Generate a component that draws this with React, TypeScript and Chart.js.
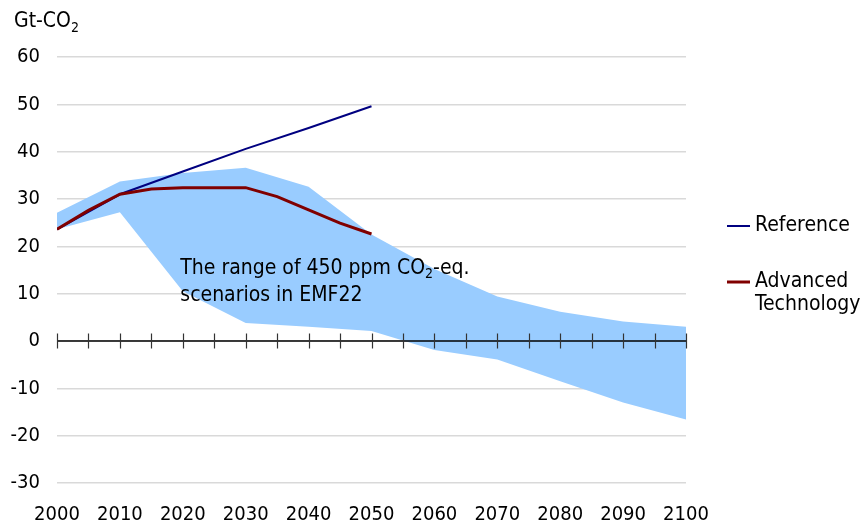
import { useEffect, useRef } from "react";
import { Chart, registerables } from "chart.js";

Chart.register(...registerables);

// ---- data ----
const bandYears = [2000, 2010, 2020, 2030, 2040, 2050, 2060, 2070, 2080, 2090, 2100];
const bandUpper = [27.1, 33.7, 35.5, 36.6, 32.6, 22.5, 15.2, 9.4, 6.2, 4.1, 3.0];
const bandLower = [23.6, 27.2, 10.5, 3.8, 3.0, 2.1, -1.9, -3.9, -8.5, -13.0, -16.6];

const referenceYears = [2000, 2010, 2020, 2030, 2040, 2050];
const referenceValues = [23.6, 31.0, 35.8, 40.6, 45.0, 49.6];

const advancedYears = [2000, 2005, 2010, 2015, 2020, 2025, 2030, 2035, 2040, 2045, 2050];
const advancedValues = [23.6, 27.6, 31.0, 32.1, 32.4, 32.4, 32.4, 30.5, 27.7, 24.9, 22.6];

const xMin = 2000;
const xMax = 2100;
const xStep = 10;
const minorStep = 5;
const yMin = -30;
const yMax = 60;
const yStep = 10;

const axisTitleText = ["Gt-CO", "2"];
const rangeLine1 = ["The range of 450 ppm CO", "2", "-eq."];
const rangeLine2 = "scenarios in EMF22";
const legendItems = [
  { lines: ["Reference"], color: "#000080" },
  { lines: ["Advanced", "Technology"], color: "#800000" },
];

const FONT = "'DejaVu Sans Condensed', 'DejaVu Sans', sans-serif";
const TEXT_SIZE = 21;
const TICK_SIZE = 20;

const zip = (xs: number[], ys: number[]) => xs.map((x, i) => ({ x, y: ys[i] }));

function drawSubText(ctx: CanvasRenderingContext2D, parts: string[], x: number, y: number, size: number) {
  // parts alternate: normal, subscript, normal...
  let cx = x;
  parts.forEach((p, i) => {
    const sub = i % 2 === 1;
    ctx.font = `${sub ? Math.round(size * 0.68) : size}px ${FONT}`;
    ctx.fillText(p, cx, sub ? y + size * 0.28 : y);
    cx += ctx.measureText(p).width;
  });
}

export default function App() {
  const ref = useRef<HTMLCanvasElement>(null);

  useEffect(() => {
    document.body.style.margin = "0";
    const canvas = ref.current;
    if (!canvas) return;

    const overlay = {
      id: "overlay",
      afterDatasetsDraw(chart: any) {
        const ctx = chart.ctx as CanvasRenderingContext2D;
        const xs = chart.scales.x;
        const ys = chart.scales.y;
        const area = chart.chartArea;
        ctx.save();

        // zero axis line with minor ticks
        const y0 = ys.getPixelForValue(0);
        ctx.strokeStyle = "#000";
        ctx.lineWidth = 1.5;
        ctx.beginPath();
        ctx.moveTo(xs.getPixelForValue(xMin), y0);
        ctx.lineTo(xs.getPixelForValue(xMax), y0);
        ctx.stroke();
        ctx.lineWidth = 1.2;
        ctx.strokeStyle = "#333";
        for (let v = xMin; v <= xMax; v += minorStep) {
          const px = Math.round(xs.getPixelForValue(v)) + 0.5;
          ctx.beginPath();
          ctx.moveTo(px, y0 - 7.5);
          ctx.lineTo(px, y0 + 7.5);
          ctx.stroke();
        }

        ctx.fillStyle = "#000";
        ctx.textBaseline = "middle";
        ctx.textAlign = "left";

        // axis title
        drawSubText(ctx, axisTitleText, 14, 22, TEXT_SIZE);

        // annotation
        const ax = xs.getPixelForValue(2019.6);
        drawSubText(ctx, rangeLine1, ax, ys.getPixelForValue(15.4), TEXT_SIZE);
        ctx.font = `${TEXT_SIZE}px ${FONT}`;
        ctx.fillText(rangeLine2, ax, ys.getPixelForValue(9.5));

        // legend
        const lx = area.right + 41;
        const legendY = [226, 282];
        legendItems.forEach((item, i) => {
          const ly = legendY[i];
          ctx.strokeStyle = item.color;
          ctx.lineWidth = i === 0 ? 2 : 3;
          ctx.beginPath();
          ctx.moveTo(lx, ly);
          ctx.lineTo(lx + 23, ly);
          ctx.stroke();
          ctx.font = `${TEXT_SIZE}px ${FONT}`;
          item.lines.forEach((t, j) => ctx.fillText(t, lx + 28, ly + j * 23));
        });

        ctx.restore();
      },
    };

    const chart = new Chart(canvas, {
      type: "line",
      data: {
        datasets: [
          {
            label: "upper",
            data: zip(bandYears, bandUpper),
            borderWidth: 0,
            pointRadius: 0,
            backgroundColor: "#99CCFF",
            fill: "+1",
            order: 3,
          },
          {
            label: "lower",
            data: zip(bandYears, bandLower),
            borderWidth: 0,
            pointRadius: 0,
            fill: false,
            order: 3,
          },
          {
            label: "Reference",
            data: zip(referenceYears, referenceValues),
            borderColor: "#000080",
            borderWidth: 2,
            pointRadius: 0,
            fill: false,
            order: 2,
          },
          {
            label: "Advanced Technology",
            data: zip(advancedYears, advancedValues),
            borderColor: "#800000",
            borderWidth: 3,
            pointRadius: 0,
            fill: false,
            order: 1,
          },
        ],
      },
      options: {
        responsive: false,
        animation: false,
        layout: { padding: { top: 57, right: 180, left: 0, bottom: 0 } },
        plugins: { legend: { display: false }, tooltip: { enabled: false } },
        scales: {
          x: {
            type: "linear",
            min: xMin,
            max: xMax,
            grid: { display: false, drawTicks: false },
            border: { display: false },
            ticks: {
              stepSize: xStep,
              padding: 20,
              color: "#000",
              font: { family: FONT, size: TICK_SIZE },
              maxRotation: 0,
              callback: (v: any) => String(v),
            },
            afterFit: (s: any) => {
              s.height = 44;
            },
          },
          y: {
            min: yMin,
            max: yMax,
            grid: { color: "#d9d9d9", lineWidth: 1.5, drawTicks: false },
            border: { display: false },
            ticks: {
              stepSize: yStep,
              padding: 17,
              color: "#000",
              font: { family: FONT, size: TICK_SIZE },
            },
            afterFit: (s: any) => {
              s.width = 57;
            },
          },
        },
      },
      plugins: [overlay],
    });

    return () => chart.destroy();
  }, []);

  return (
    <div style={{ width: 866, height: 527 }}>
      <canvas ref={ref} width={866} height={527} />
    </div>
  );
}
